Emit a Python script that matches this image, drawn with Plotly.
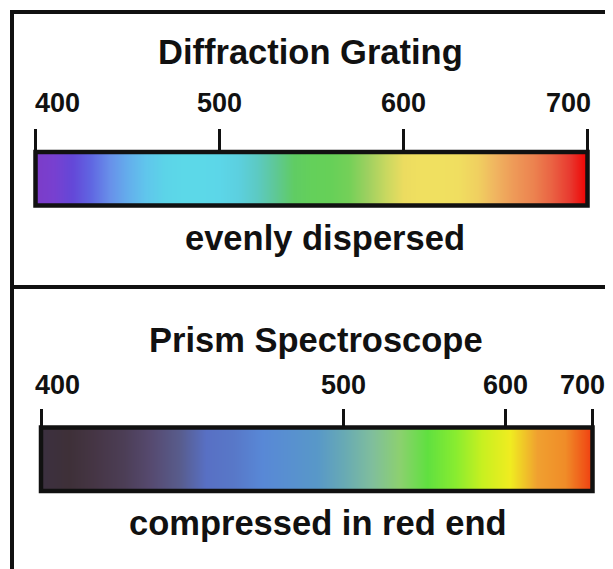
import plotly.graph_objects as go

# page body keeps an 8px margin, so the figure is drawn 8px in and
# every pixel position below is taken from the reference and shifted back
PAGE_OFF = 8
W, H = 613 - PAGE_OFF, 569 - PAGE_OFF

# ── data ────────────────────────────────────────────────
# Diffraction grating: colour seen at each wavelength (nm), even spacing
grating_wl = [400, 410, 420, 430, 440, 450, 460, 470, 480, 490, 500,
              510, 520, 530, 540, 550, 560, 570, 580, 590, 600,
              610, 620, 630, 640, 650, 660, 670, 680, 690, 700]
grating_colors = ["#7c3cc8", "#7840d0", "#6448d8", "#6066e2", "#6890ea",
                  "#64aeec", "#60c6ec", "#5cd4e8", "#5cd8e8", "#5cd8e8",
                  "#5cd6e8", "#5cd0e0", "#5ccac4", "#5ec898", "#60cc64",
                  "#64d05a", "#66d058", "#74d058", "#9cd060", "#c8d860",
                  "#ecdc60", "#f0e060", "#f0e060", "#f0de60", "#f0d060",
                  "#f0b460", "#ee9a58", "#ec8450", "#ea6444", "#e83a30",
                  "#f00000"]
grating_ticks = [400, 500, 600, 700]

# Prism: where each wavelength lands along the bar (fraction of bar length)
prism_tick_pos = [0.0, 0.548, 0.842, 1.0]
prism_tick_text = ["400", "500", "600", "700"]
prism_pos = [0.0, 0.05, 0.10, 0.15, 0.20, 0.25, 0.30, 0.35, 0.40, 0.45, 0.50,
             0.55, 0.60, 0.65, 0.70, 0.75, 0.80, 0.85, 0.90, 0.95, 1.0]
prism_colors = ["#3c3040", "#3e3038", "#463646", "#4c3e56", "#564a70",
                "#585c8c", "#5870c4", "#5878c8", "#5888d6", "#5890d0",
                "#5898c8", "#68aab4", "#80be9c", "#8cd070", "#60e040",
                "#88ec30", "#c8f020", "#f0ec20", "#f0a030", "#f08c28",
                "#f03c10"]

titles = ["Diffraction Grating", "Prism Spectroscope"]
captions = ["evenly dispersed", "compressed in red end"]

FONT = "Liberation Sans"
INK = "#111111"


def px(x):
    return (x - PAGE_OFF) / W


def py(y):
    return 1 - (y - PAGE_OFF) / H


def spectrum_trace(xs, colors, xa, ya):
    n = len(colors)
    scale = [[i / (n - 1), c] for i, c in enumerate(colors)]
    row = list(range(n))
    return go.Heatmap(
        x=xs, y=[0, 1], z=[row, row],
        colorscale=scale, zmin=0, zmax=n - 1,
        zsmooth="best", showscale=False, hoverinfo="skip",
        xaxis=xa, yaxis=ya,
    )


fig = go.Figure()
fig.add_trace(spectrum_trace(grating_wl, grating_colors, "x", "y"))
fig.add_trace(spectrum_trace(prism_pos, prism_colors, "x2", "y2"))

axis_common = dict(
    side="top", ticks="outside", tickwidth=3, tickcolor=INK,
    showticklabels=False, showgrid=False, zeroline=False,
    showline=False, fixedrange=True,
)
yaxis_common = dict(
    range=[-0.5, 1.5], showticklabels=False, showgrid=False,
    zeroline=False, ticks="", fixedrange=True,
)

fig.update_layout(
    width=W, height=H,
    margin=dict(l=0, r=0, t=0, b=0),
    paper_bgcolor="white", plot_bgcolor="white",
    showlegend=False,
    xaxis=dict(domain=[px(35.5), px(587.5)], range=[400, 700], anchor="y",
               tickvals=grating_ticks, ticklen=22, **axis_common),
    yaxis=dict(domain=[py(205.5), py(152)], anchor="x", **yaxis_common),
    xaxis2=dict(domain=[px(41), px(592.5)], range=[0, 1], anchor="y2",
                tickvals=prism_tick_pos, ticklen=18, **axis_common),
    yaxis2=dict(domain=[py(491), py(427.5)], anchor="x2", **yaxis_common),
)

# bar outlines
for xr, yr in (("x domain", "y domain"), ("x2 domain", "y2 domain")):
    fig.add_shape(type="rect", xref=xr, yref=yr, x0=0, x1=1, y0=0, y1=1,
                  line=dict(color=INK, width=4.5), layer="above")

# outer frame (cut off at right and bottom) and divider
frame = dict(color=INK, width=4)
fig.add_shape(type="line", xref="paper", yref="paper",
              x0=px(10), x1=1.02, y0=py(12), y1=py(12), line=frame)
fig.add_shape(type="line", xref="paper", yref="paper",
              x0=px(12), x1=px(12), y0=py(10), y1=-0.02, line=frame)
fig.add_shape(type="line", xref="paper", yref="paper",
              x0=px(10), x1=1.02, y0=py(287), y1=py(287), line=frame)

big = dict(family=FONT, size=34.5, color=INK, weight="bold")
small = dict(family=FONT, size=27, color=INK, weight="bold")

# titles and captions
for text, xc, yc in ((titles[0], 310, 52), (captions[0], 324.5, 238),
                     (titles[1], 316, 340), (captions[1], 318, 523)):
    fig.add_annotation(text=text, x=px(xc), y=py(yc), xref="paper", yref="paper",
                       xanchor="center", yanchor="middle", showarrow=False,
                       font=big)

# tick labels
panels = (
    ("x", grating_ticks, [str(t) for t in grating_ticks], 103.5, -3, 5),
    ("x2", prism_tick_pos, prism_tick_text, 384.5, -8, 14),
)
for xr, vals, texts, yc, first_shift, last_shift in panels:
    last = len(vals) - 1
    for i, (v, t) in enumerate(zip(vals, texts)):
        anchor, shift = "center", 0
        if i == 0:
            anchor, shift = "left", first_shift
        elif i == last:
            anchor, shift = "right", last_shift
        fig.add_annotation(text=t, x=v, y=py(yc), xref=xr, yref="paper",
                           xanchor=anchor, yanchor="middle", xshift=shift,
                           showarrow=False, font=small)

fig.write_html("out.html")
